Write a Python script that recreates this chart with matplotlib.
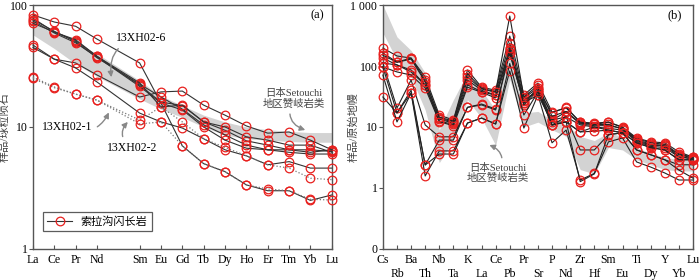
import matplotlib
matplotlib.use("Agg")
import matplotlib.pyplot as plt
from matplotlib.lines import Line2D

plt.rcParams['font.family'] = ['Liberation Serif', 'Noto Sans CJK SC']

# ---- (a) REE, chondrite normalised ----
ree = ["La", "Ce", "Pr", "Nd", "Sm", "Eu", "Gd", "Tb", "Dy", "Ho", "Er", "Tm", "Yb", "Lu"]
ree_pos = [0, 1, 2, 3, 5, 6, 7, 8, 9, 10, 11, 12, 13, 14]   # Pm left empty

ree_solid = [
    [83, 72.6, 67, 52.6, 33.5, 15.7, 7.0, 5.0, 4.3, 3.35, 3.0, 3.0, 2.5, 2.77],
    [78, 60, 51, 38, 22, 16, 15, 11, 9.4, 7.7, 7.1, 6.5, 6.5, 6.3],
    [76, 61, 50, 37, 22.5, 17.6, 14, 10.4, 8.6, 7.1, 6.5, 6.2, 6.0, 6.0],
    [74, 59, 49, 37.5, 21.5, 15.7, 13.8, 10, 7.8, 6.7, 6.5, 6.5, 6.2, 6.5],
    [71, 60, 52, 38, 23, 14.6, 15.1, 11, 10, 8.3, 7.8, 7.1, 7.1, 6.2],
    [47, 36, 33.5, 26.7, 17.6, 19.4, 19.7, 15.1, 12.5, 10.2, 8.9, 9.1, 7.8, 6.5],
    [45, 36, 30.5, 23.4, 13, 11, 9.8, 8, 6.5, 5.8, 4.9, 5.2, 4.6, 4.6],
]
ree_dotted = [
    [25.7, 21.3, 18.6, 16.6, 11.4, 14.6, 11, 8, 6.8, 5.8, 4.9, 4.6, 3.8, 3.7],   # 13XH02-1
    [25, 21, 18.6, 16.6, 10.6, 11, 7.0, 5.0, 4.3, 3.35, 3.1, 3.0, 2.55, 2.52],   # 13XH02-2
]
ree_band_hi = [71, 59, 49, 40, 24, 18, 15, 12.5, 11, 10, 9.5, 9.2, 9, 9]
ree_band_lo = [57, 44, 33, 26, 17, 14, 12, 10, 8.6, 8, 7.8, 7.6, 7.5, 7.5]

# ---- (b) trace elements, primitive mantle normalised ----
trace = ["Cs", "Rb", "Ba", "Th", "Nb", "Ta", "K", "La", "Ce", "Pb", "Pr", "Sr", "P",
         "Nd", "Zr", "Hf", "Sm", "Eu", "Ti", "Dy", "Y", "Yb", "Lu"]
trace_samples = [
    [197, 146, 135, 66, 15.7, 13, 86, 45, 40, 310, 33.5, 52.6, 17.6, 20.5, 12, 11.6, 12, 10, 6.6, 5.7, 5.5, 3.9, 3.2],
    [163, 116, 135, 59, 14, 12, 66, 42, 37, 238, 30, 43.6, 13, 17.6, 11.2, 10.5, 10.5, 9.5, 6.2, 5.2, 5.0, 3.5, 3.1],
    [135, 104, 86, 49, 12.5, 11, 59, 40, 33.5, 197, 28, 37.5, 13, 14.6, 10.8, 10, 9.5, 8.9, 5.8, 4.8, 4.6, 3.2, 3.0],
    [112, 104, 80, 49, 13.5, 11.5, 49, 38, 33, 180, 27, 40, 17, 21, 12, 11, 12, 9.8, 6.4, 5.5, 5.2, 3.6, 3.2],
    [96, 80, 71, 43.5, 12.2, 10.5, 45, 37, 30, 163, 25, 33.5, 12, 12.1, 8.3, 8.5, 8.9, 8.0, 5.5, 4.6, 4.2, 2.9, 2.9],
    [150, 115, 130, 55, 14.5, 12.5, 75, 43, 38, 660, 31, 48, 15, 18, 11.5, 11, 11, 9.2, 6.0, 5.0, 4.9, 3.3, 3.0],
    [112, 20.5, 59, 10.8, 6.9, 6.9, 21, 23.8, 19.7, 163, 24.7, 43.6, 10.8, 14.6, 4.2, 4.2, 7.5, 8.0, 4.2, 3.5, 2.9, 2.4, 2.4],
    [96, 17, 40, 2.38, 6.1, 6.1, 21, 23, 19, 197, 23, 40, 10.8, 12, 8.3, 10, 8.9, 8, 5.5, 4.6, 4.2, 2.9, 2.9],
    [31, 17, 36, 1.57, 4.05, 4.05, 11.6, 14, 11.2, 83, 9.6, 33.5, 5.5, 8.9, 1.35, 1.73, 5.7, 6.6, 2.67, 2.2, 1.76, 1.35, 1.35],
    [71, 12.1, 36, 2.38, 3.6, 3.6, 11.6, 14, 11.2, 110, 15.7, 37.5, 10.8, 12.1, 1.27, 1.7, 7.5, 8, 4.2, 3.5, 2.9, 1.97, 1.45],
]
trace_band_hi = [1000, 300, 180, 77, 9, 28, 77, 40, 19, 250, 17, 18, 13, 11, 7, 6, 8, 7, 4.6, 3.7, 3.2, 2.9, 2.9]
trace_band_lo = [350, 125, 66, 19, 2.6, 6, 28, 14, 5, 60, 10, 12, 9, 7, 2.0, 1.7, 4.6, 4.2, 2.9, 2.4, 2.0, 1.9, 1.9]

fig = plt.figure(figsize=(7, 2.8), dpi=100)
ax1 = fig.add_axes([0.047, 0.111, 0.427, 0.871])
ax2 = fig.add_axes([0.547, 0.111, 0.443, 0.871])

red = "#e8201e"
mk = dict(marker="o", ms=6.2, mfc="none", mec=red, mew=0.9)

# panel a
ax1.fill_between(ree_pos, ree_band_lo, ree_band_hi, color="#d3d3d3", lw=0, zorder=1)
for s in ree_solid:
    ax1.plot(ree_pos, s, color="#333333", lw=0.8, zorder=3, clip_on=False, **mk)
for s in ree_dotted:
    ax1.plot(ree_pos, s, color="#777777", lw=0.9, ls=":", zorder=3, clip_on=False, **mk)
ax1.set_yscale("log")
ax1.set_ylim(1, 100)
ax1.set_xlim(0, 14)
ax1.set_xticks(ree_pos)
ax1.set_xticklabels(ree)
ax1.set_yticks([1, 10, 100])
ax1.set_yticklabels(["1", "10", "100"])
ax1.minorticks_off()
ax1.set_ylabel("样品/球粒陨石", fontsize=8, color="#444444")
ax1.yaxis.set_label_coords(-0.078, 0.5)

arrow = dict(arrowstyle="-|>", color="#888888", lw=1.0, mutation_scale=8)
ax1.annotate("13XH02-6", xy=(0.264, 0.693), xytext=(0.361, 0.865), xycoords="axes fraction",
             ha="center", va="center", fontsize=8.5,
             arrowprops=dict(connectionstyle="arc3,rad=0.5", **arrow))
ax1.annotate("13XH02-1", xy=(0.258, 0.57), xytext=(0.114, 0.5), xycoords="axes fraction",
             ha="center", va="center", fontsize=8.5,
             arrowprops=dict(connectionstyle="arc3,rad=0.5", **arrow))
ax1.annotate("13XH02-2", xy=(0.324, 0.529), xytext=(0.331, 0.414), xycoords="axes fraction",
             ha="center", va="center", fontsize=8.5,
             arrowprops=dict(connectionstyle="arc3,rad=-0.6", **arrow))
ax1.annotate("日本Setouchi\n地区赞岐岩类", xy=(0.92, 0.484), xytext=(0.873, 0.617),
             xycoords="axes fraction", ha="center", va="center", fontsize=7.5,
             color="#444444", linespacing=1.0,
             arrowprops=dict(connectionstyle="arc3,rad=0.6", **arrow))
ax1.text(0.953, 0.959, "(a)", transform=ax1.transAxes, ha="center", va="center", fontsize=9)

handle = Line2D([], [], color="#333333", lw=0.8, **mk)
leg = ax1.legend([handle], ["索拉沟闪长岩"], loc="lower left", bbox_to_anchor=(0.015, 0.05),
                 fontsize=8, fancybox=False, edgecolor="#333333", handlelength=2.2,
                 borderpad=0.4)
leg.get_frame().set_linewidth(0.9)

# panel b
xs = list(range(len(trace)))
ax2.fill_between(xs, trace_band_lo, trace_band_hi, color="#d3d3d3", lw=0, zorder=1)
for s in trace_samples:
    ax2.plot(xs, s, color="#222222", lw=0.8, zorder=3, clip_on=False, **mk)
ax2.set_yscale("log")
ax2.set_ylim(0.1, 1000)
ax2.set_xlim(0, len(trace) - 1)
ax2.set_xticks(xs)
ax2.set_xticklabels([t if i % 2 == 0 else "\n" + t for i, t in enumerate(trace)])
ax2.set_yticks([0.1, 1, 10, 100, 1000])
ax2.set_yticklabels(["0", "1", "10", "100", "1 000"])
ax2.minorticks_off()
ax2.set_ylabel("样品/原始地幔", fontsize=8, color="#444444")
ax2.yaxis.set_label_coords(-0.078, 0.5)
ax2.annotate("日本Setouchi\n地区赞岐岩类", xy=(0.335, 0.43), xytext=(0.371, 0.31),
             xycoords="axes fraction", ha="center", va="center", fontsize=7.5,
             color="#444444", linespacing=1.0,
             arrowprops=dict(connectionstyle="arc3,rad=0.6", **arrow))
ax2.text(0.942, 0.959, "(b)", transform=ax2.transAxes, ha="center", va="center", fontsize=9)

for ax in (ax1, ax2):
    for sp in ax.spines.values():
        sp.set_color("#555555")
        sp.set_linewidth(1.0)
    ax.tick_params(axis="x", direction="in", length=3, labelsize=8.5, pad=4, color="#555555")
    ax.tick_params(axis="y", direction="out", length=3, labelsize=8.5, pad=1, color="#555555")

fig.savefig("out.png", dpi=100)
